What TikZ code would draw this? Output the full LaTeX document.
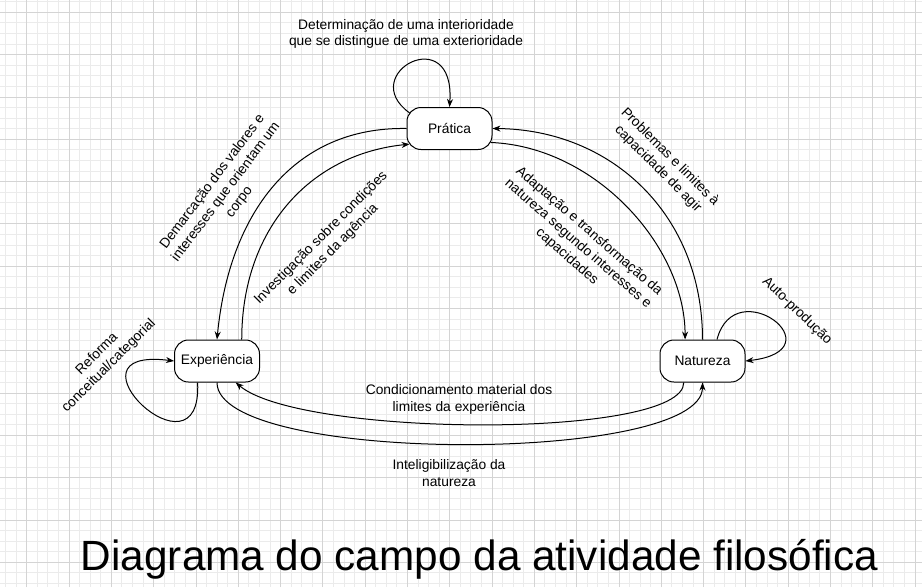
\documentclass[tikz,border=0pt]{standalone}
\usepackage{fontspec}
\setmainfont{Liberation Sans}
\usetikzlibrary{arrows.meta}

\begin{document}
\begin{tikzpicture}[x=1pt,y=1pt]
\tikzstyle{every node}+=[inner sep=0pt]
\tikzstyle{estado}=[draw=black, fill=white, line width=1pt, rounded corners=14pt, minimum width=85pt, minimum height=42pt, font=\fontsize{13.8}{16.6}\selectfont]
\tikzstyle{rotulo}=[align=center, font=\fontsize{13.8}{16.8}\selectfont]
\tikzstyle{seta}=[draw=black, line width=1pt, -{Stealth[length=8pt,width=6pt]}]
\tikzstyle{gradefina}=[draw=black!8, line width=0.8pt]
\tikzstyle{gradegrossa}=[draw=black!17, line width=0.8pt]
\fill [white] (0,0) rectangle (922,-587);
\useasboundingbox (0,0) rectangle (922,-587);
\begin{scope}[xshift=26.7pt, yshift=-12.3pt]
\draw [gradefina, step=10.575pt] (-26.7,12.3) grid (895.3,-574.7);
\draw [gradegrossa, step=42.3pt] (-26.7,12.3) grid (895.3,-574.7);
\end{scope}
\node (pratica) at (449.5,-128.5) [estado] {Prática};
\node (experiencia) at (217,-361) [estado] {Experiência};
\node (natureza) at (702.5,-361) [estado] {Natureza};
\node (tDeterm) at (406,-34) [rotulo] {Determinação de uma interioridade\\que se distingue de uma exterioridade};
\node (tDemarc) at (226,-192) [rotulo, rotate=53] {Demarcação dos valores e\\interesses que orientam um\\corpo};
\node (tInvest) at (327,-244) [rotulo, rotate=45] {Investigação sobre condições\\e limites da agência};
\node (tProbl) at (664,-163) [rotulo, rotate=-45] {Problemas e limites à\\capacidade de agir};
\node (tAdapt) at (578,-244) [rotulo, rotate=-41] {Adaptação e transformação da\\natureza segundo interesses e\\capacidades};
\node (tReforma) at (103,-360) [rotulo, rotate=45] {Reforma\\conceitual/categorial};
\node (tAuto) at (797,-311) [rotulo, rotate=-44] {Auto-produção};
\node (tCond) at (459,-399.5) [rotulo] {Condicionamento material dos\\limites da experiência};
\node (tIntel) at (449,-473.3) [rotulo] {Inteligibilização da\\natureza};
\node (titulo) at (479.5,-570) [anchor=base, font=\fontsize{42.3}{50}\selectfont] {Diagrama do campo da atividade filosófica};
\draw [seta] (pratica.west) .. controls +(-113,2) and +(12,126) .. (experiencia.north);
\draw [seta] (experiencia.41) .. controls +(0,110) and +(-100,-10) .. ([xshift=3pt]pratica.200);
\draw [seta] (natureza.north) .. controls +(0,125) and +(119,-1) .. (pratica.east);
\draw [seta] ([xshift=-2pt]pratica.-18) .. controls +(105,-4) and +(0,93) .. (natureza.129);
\draw [seta] (natureza.229) .. controls +(0,-57) and +(65,-55) .. (experiencia.-49);
\draw [seta] (experiencia.south) .. controls +(0,-82) and +(0,-82) .. (natureza.south);
\draw [seta] ([xshift=3pt]pratica.160) .. controls +(-54,39) and +(6,87) .. (pratica.north);
\draw [seta] (experiencia.228) .. controls +(5,-105) and +(-119,15) .. (experiencia.west);
\draw [seta] (natureza.56) .. controls +(18,69) and +(94,11) .. (natureza.east);
\end{tikzpicture}
\end{document}
